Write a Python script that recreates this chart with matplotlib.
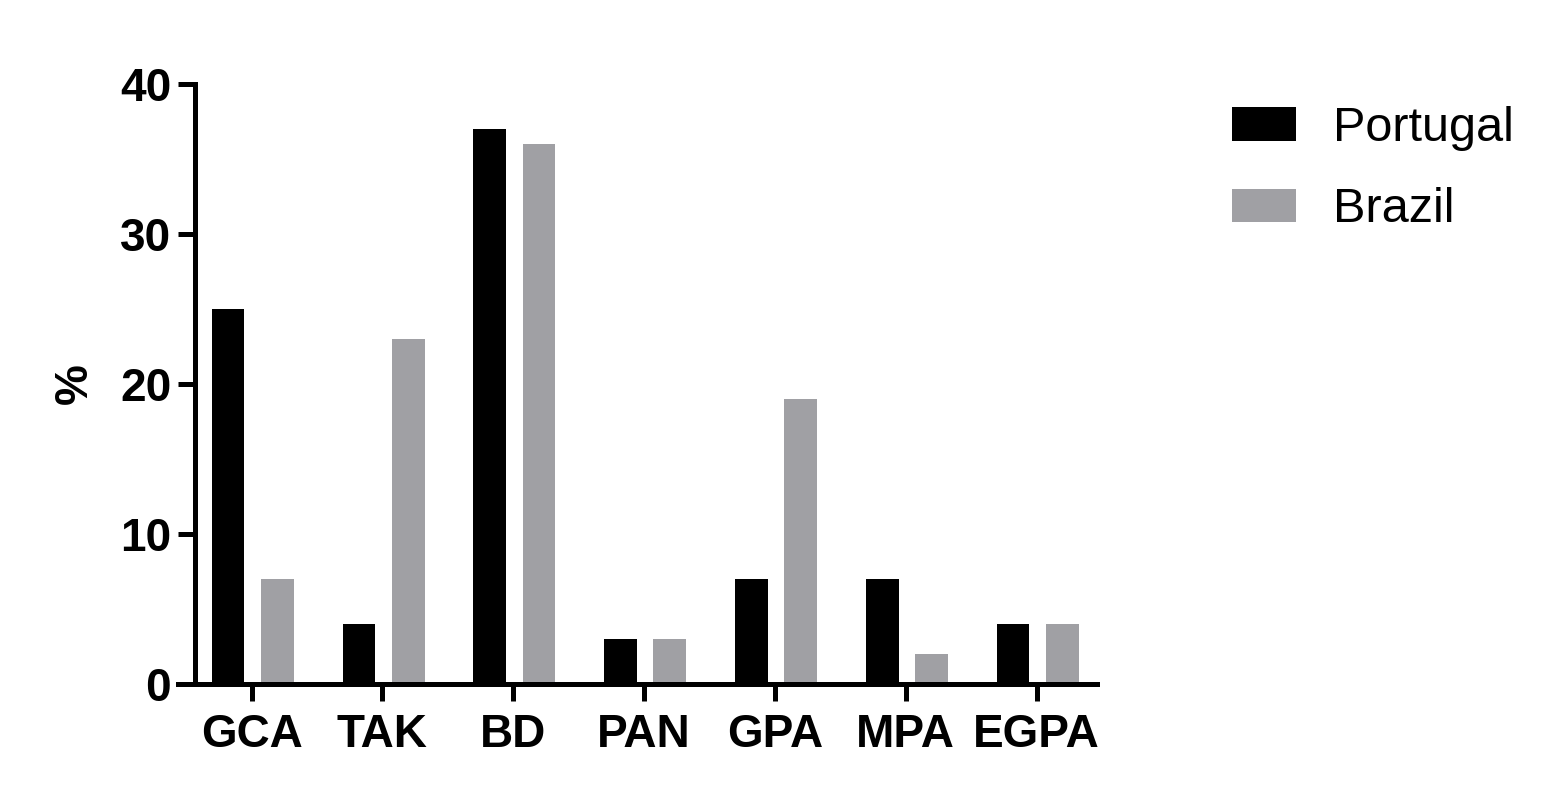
import matplotlib.pyplot as plt
import numpy as np
from matplotlib.patches import Patch

plt.rcParams['font.family'] = ['Liberation Sans', 'DejaVu Sans']

categories = ['GCA', 'TAK', 'BD', 'PAN', 'GPA', 'MPA', 'EGPA']
portugal = [25, 4, 37, 3, 7, 7, 4]
brazil = [7, 23, 36, 3, 19, 2, 4]

black = '#000000'
grey = '#a0a0a4'
lw = 3.6

fig = plt.figure(figsize=(15.54, 7.97), dpi=100)
ax = fig.add_axes([0.1145, 0.1418, 0.5914, 0.7528])

x = np.arange(len(categories))
w = 0.25
ax.bar(x - 0.18, portugal, w, color=black, label='Portugal')
ax.bar(x + 0.197, brazil, w, color=grey, label='Brazil')

ax.set_xlim(-0.563, 6.462)
ax.set_ylim(0, 40)
ax.set_yticks([0, 10, 20, 30, 40])
ax.set_xticks(x)
ax.set_xticklabels(categories)

for s in ['top', 'right']:
    ax.spines[s].set_visible(False)
ax.spines['left'].set_position(('data', -0.434))
ax.spines['left'].set_linewidth(lw)
ax.spines['bottom'].set_linewidth(lw)
ax.spines['left'].set_capstyle('projecting')

ax.tick_params(axis='both', width=lw, length=12, labelsize=33, color='black')
ax.tick_params(axis='y', pad=5)
ax.tick_params(axis='x', pad=9)
for lab in ax.get_xticklabels() + ax.get_yticklabels():
    lab.set_fontweight('bold')

ax.set_ylabel('%', fontsize=33, fontweight='bold')
ax.yaxis.set_label_coords(-0.088, 0.5)

handles = [Patch(facecolor=black), Patch(facecolor=grey)]
fig.legend(handles, ['Portugal', 'Brazil'], loc='upper left',
           bbox_to_anchor=(0.7928, 0.867), frameon=False, fontsize=35,
           handlelength=1.32, handleheight=0.68, handletextpad=0.76,
           labelspacing=0.75, borderaxespad=0, borderpad=0)

fig.savefig('out.png', dpi=100)
